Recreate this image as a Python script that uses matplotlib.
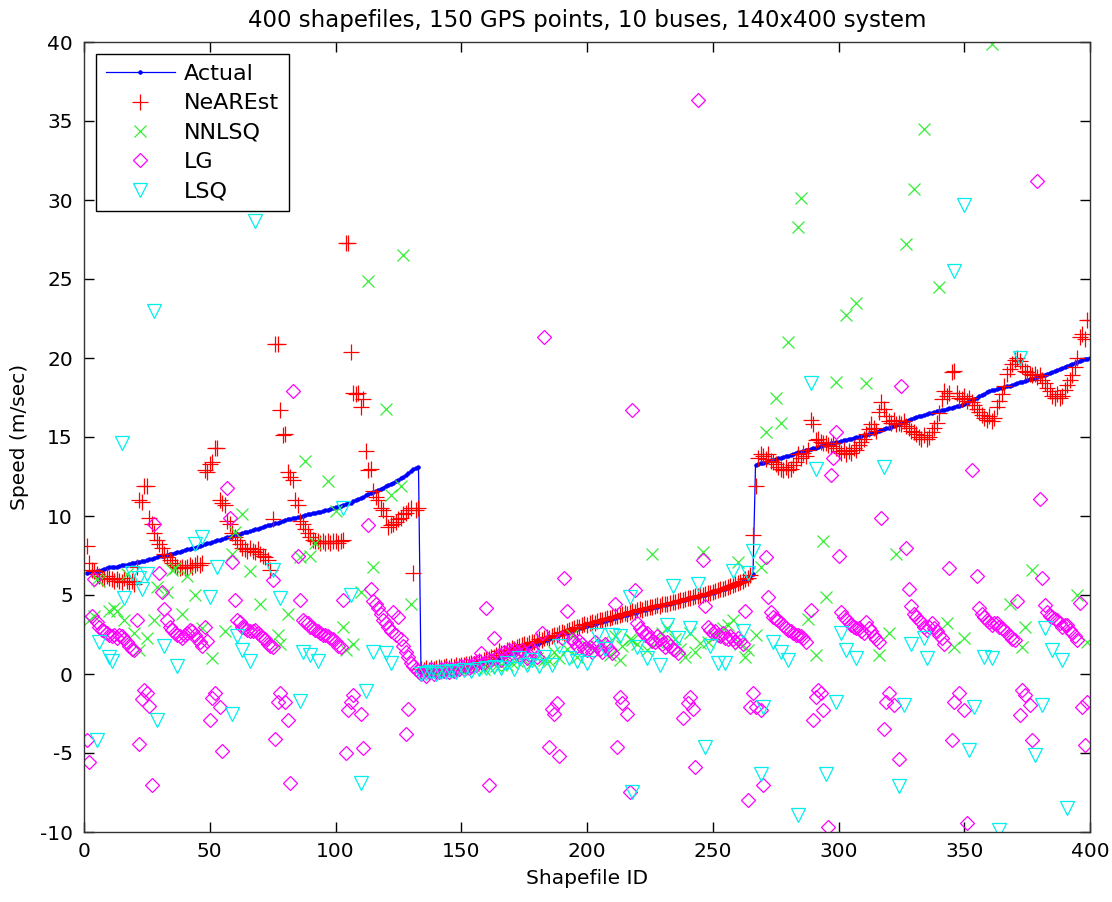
import numpy as np
import matplotlib
matplotlib.use("Agg")
import matplotlib.pyplot as plt

# ---------------------------------------------------------------- data
shapefile_id = np.arange(1, 401)

actual_speed = [
    # route 1 (ids 1-133)
    6.40, 6.43, 6.45, 6.46, 6.50, 6.55, 6.58, 6.62, 6.70, 6.75,
    6.76, 6.78, 6.80, 6.84, 6.88, 6.90, 6.93, 6.95, 7.00, 7.05,
    7.08, 7.10, 7.13, 7.16, 7.20, 7.25, 7.30, 7.34, 7.40, 7.45,
    7.48, 7.50, 7.55, 7.60, 7.62, 7.66, 7.70, 7.74, 7.80, 7.85,
    7.88, 7.92, 7.97, 8.00, 8.05, 8.10, 8.15, 8.20, 8.26, 8.30,
    8.35, 8.40, 8.45, 8.50, 8.55, 8.60, 8.66, 8.70, 8.76, 8.80,
    8.84, 8.88, 8.92, 8.96, 9.00, 9.05, 9.10, 9.15, 9.20, 9.25,
    9.30, 9.35, 9.40, 9.45, 9.50, 9.54, 9.58, 9.63, 9.70, 9.75,
    9.78, 9.80, 9.85, 9.88, 9.92, 9.96, 10.00, 10.05, 10.10, 10.15,
    10.18, 10.20, 10.25, 10.28, 10.30, 10.35, 10.40, 10.45, 10.50, 10.55,
    10.60, 10.65, 10.70, 10.75, 10.80, 10.85, 10.92, 11.00, 11.08, 11.15,
    11.22, 11.30, 11.38, 11.45, 11.52, 11.60, 11.66, 11.72, 11.80, 11.90,
    11.98, 12.05, 12.12, 12.20, 12.30, 12.40, 12.50, 12.60, 12.70, 12.85,
    12.95, 13.05, 13.10,
    # route 2 (ids 134-266)
    0.10, 0.12, 0.13, 0.15, 0.16, 0.18, 0.20, 0.21, 0.23, 0.25,
    0.27, 0.29, 0.31, 0.33, 0.35, 0.38, 0.40, 0.42, 0.45, 0.48,
    0.51, 0.54, 0.57, 0.60, 0.64, 0.68, 0.72, 0.77, 0.82, 0.88,
    0.94, 1.00, 1.06, 1.12, 1.18, 1.25, 1.32, 1.38, 1.44, 1.50,
    1.56, 1.62, 1.68, 1.74, 1.80, 1.86, 1.92, 1.98, 2.04, 2.10,
    2.16, 2.22, 2.28, 2.34, 2.40, 2.46, 2.52, 2.57, 2.62, 2.68,
    2.73, 2.78, 2.84, 2.89, 2.94, 2.99, 3.04, 3.09, 3.13, 3.18,
    3.22, 3.26, 3.31, 3.35, 3.40, 3.44, 3.49, 3.53, 3.58, 3.62,
    3.67, 3.71, 3.76, 3.80, 3.85, 3.89, 3.94, 3.98, 4.02, 4.06,
    4.10, 4.14, 4.18, 4.22, 4.26, 4.30, 4.34, 4.38, 4.42, 4.46,
    4.50, 4.54, 4.58, 4.62, 4.66, 4.70, 4.74, 4.78, 4.82, 4.86,
    4.90, 4.94, 4.98, 5.02, 5.06, 5.10, 5.15, 5.20, 5.25, 5.30,
    5.35, 5.40, 5.46, 5.52, 5.58, 5.64, 5.70, 5.78, 5.86, 5.94,
    6.05, 6.18, 6.30,
    # route 3 (ids 267-400)
    13.20, 13.28, 13.33, 13.38, 13.42, 13.47, 13.52, 13.56, 13.60, 13.64,
    13.68, 13.72, 13.77, 13.82, 13.87, 13.93, 14.00, 14.04, 14.08, 14.12,
    14.16, 14.20, 14.24, 14.28, 14.33, 14.38, 14.43, 14.48, 14.52, 14.56,
    14.60, 14.64, 14.67, 14.70, 14.74, 14.78, 14.82, 14.86, 14.90, 14.94,
    14.98, 15.02, 15.06, 15.10, 15.14, 15.18, 15.23, 15.28, 15.34, 15.40,
    15.45, 15.50, 15.55, 15.60, 15.66, 15.72, 15.78, 15.84, 15.90, 15.96,
    16.02, 16.08, 16.14, 16.20, 16.25, 16.30, 16.35, 16.40, 16.45, 16.50,
    16.54, 16.58, 16.62, 16.66, 16.70, 16.74, 16.78, 16.82, 16.86, 16.90,
    16.94, 16.98, 17.03, 17.10, 17.18, 17.26, 17.34, 17.42, 17.50, 17.58,
    17.66, 17.74, 17.82, 17.90, 17.96, 18.00, 18.04, 18.08, 18.12, 18.16,
    18.20, 18.25, 18.30, 18.35, 18.40, 18.45, 18.50, 18.55, 18.60, 18.65,
    18.70, 18.75, 18.80, 18.85, 18.90, 18.95, 19.00, 19.06, 19.12, 19.18,
    19.24, 19.30, 19.36, 19.42, 19.48, 19.55, 19.62, 19.70, 19.76, 19.82,
    19.87, 19.92, 19.96, 20.00,
]

nearest_speed = [
    # route 1
    8.1, 7.0, 6.6, 6.5, 6.3, 6.2, 6.1, 6.0, 6.2, 6.1,
    6.0, 5.9, 6.0, 5.9, 5.8, 6.1, 5.9, 5.8, 5.9, 5.7,
    6.8, 11.0, 10.9, 11.9, 11.9, 9.9, 9.5, 8.9, 8.5, 8.2,
    8.0, 7.6, 7.4, 7.2, 7.0, 6.9, 6.8, 6.7, 6.8, 6.7,
    6.8, 6.9, 6.8, 6.9, 7.0, 6.9, 7.0, 12.9, 12.8, 13.3,
    13.4, 14.3, 14.3, 11.0, 10.8, 10.7, 9.7, 9.5, 8.9, 8.7,
    8.5, 8.2, 8.0, 7.9, 7.8, 8.0, 7.8, 7.7, 7.9, 7.6,
    7.5, 7.4, 7.2, 6.6, 9.8, 20.9, 20.9, 16.7, 15.1, 15.2,
    12.8, 12.5, 12.3, 11.0, 10.7, 9.7, 9.5, 9.2, 8.9, 8.7,
    8.5, 8.4, 8.4, 8.3, 8.4, 8.3, 8.4, 8.3, 8.4, 8.4,
    8.3, 8.4, 8.5, 27.3, 27.3, 20.4, 17.8, 17.7, 17.8, 16.9,
    17.4, 14.1, 12.9, 13.0, 11.6, 11.2, 11.0, 10.5, 10.4, 10.0,
    9.3, 9.4, 9.5, 9.6, 9.8, 9.9, 10.1, 10.2, 10.4, 10.5,
    6.4, 10.4, 10.5,
    # route 2
    0.30, 0.25, 0.35, 0.28, 0.40, 0.32, 0.38, 0.45, 0.36, 0.42,
    0.48, 0.40, 0.52, 0.45, 0.55, 0.50, 0.60, 0.56, 0.65, 0.62,
    0.70, 0.66, 0.75, 0.80, 0.78, 0.88, 0.92, 0.95, 1.05, 1.10,
    1.20, 1.45, 1.35, 1.30, 1.55, 1.50, 1.62, 1.58, 1.70, 1.75,
    1.82, 1.90, 1.85, 1.98, 2.05, 2.00, 2.12, 2.20, 2.18, 2.28,
    2.35, 2.30, 2.42, 2.50, 2.45, 2.60, 2.66, 2.62, 2.75, 2.80,
    2.85, 2.92, 3.00, 2.96, 3.08, 3.15, 3.12, 3.22, 3.28, 3.25,
    3.35, 3.42, 3.40, 3.50, 3.55, 3.52, 3.62, 3.68, 3.66, 3.75,
    3.80, 3.85, 3.82, 3.92, 3.98, 3.95, 4.05, 4.10, 4.08, 4.15,
    4.20, 4.25, 4.22, 4.30, 4.36, 4.33, 4.40, 4.45, 4.42, 4.52,
    4.58, 4.55, 4.62, 4.70, 4.68, 4.75, 4.80, 4.78, 4.88, 4.92,
    4.95, 5.02, 5.00, 5.08, 5.12, 5.15, 5.22, 5.25, 5.30, 5.36,
    5.40, 5.45, 5.52, 5.58, 5.62, 5.70, 5.76, 5.84, 5.90, 6.00,
    6.10, 6.25, 8.80,
    # route 3
    11.9, 13.7, 13.9, 13.8, 13.6, 13.9, 13.5, 13.4, 13.3, 13.1,
    13.0, 12.9, 13.1, 12.9, 13.0, 13.2, 13.4, 13.9, 13.7, 14.0,
    13.8, 14.2, 16.1, 15.8, 14.8, 14.9, 14.7, 14.6, 14.6, 14.5,
    14.4, 14.6, 14.3, 14.1, 14.0, 14.2, 13.9, 14.1, 14.0, 14.3,
    14.2, 14.5, 14.7, 14.9, 15.2, 15.5, 15.8, 15.6, 15.4, 16.6,
    17.2, 16.8, 16.3, 16.0, 15.9, 16.1, 15.8, 15.9, 15.8, 16.0,
    15.7, 15.6, 15.4, 15.3, 15.2, 15.0, 14.9, 15.1, 14.9, 15.0,
    15.3, 15.6, 15.9, 16.5, 17.4, 17.9, 17.6, 17.8, 19.1, 19.2,
    17.8, 17.5, 17.4, 17.6, 17.3, 17.5, 17.2, 17.0, 16.8, 16.6,
    16.4, 16.2, 16.1, 16.3, 16.0, 16.2, 16.9, 17.3, 17.7, 18.2,
    19.0, 19.3, 19.6, 19.9, 20.0, 19.8, 19.5, 19.2, 19.1, 19.0,
    18.9, 19.0, 18.8, 18.9, 18.6, 18.4, 18.1, 17.9, 17.6, 17.5,
    17.7, 17.5, 17.6, 18.0, 18.3, 18.6, 18.9, 19.4, 20.0, 21.3,
    21.5, 21.2, 22.4, 22.4,
]

nnlsq_id = [
    2, 4, 5, 6, 10, 12, 13, 16, 17, 20, 22, 25, 28, 29, 33, 35, 36, 39,
    41, 44, 47, 51, 56, 59, 60, 63, 66, 70, 77, 78, 81, 86, 88, 90, 92,
    97, 100, 103, 104, 107, 110, 113, 115, 120, 122, 126, 127, 130,
    135, 137, 139, 141, 143, 145, 147, 150, 153, 156, 159, 161, 164,
    166, 168, 170, 172, 175, 178, 180, 183, 185, 187, 189, 192, 194,
    196, 200, 203, 206, 209, 211, 213, 214, 217, 218, 220, 224, 226,
    228, 230, 232, 235, 237, 239, 241, 243, 245, 246, 248, 251, 254,
    256, 258, 260, 261, 263, 264, 267, 269, 271, 275, 277, 280, 284,
    285, 288, 291, 294, 295, 299, 303, 307, 311, 316, 320, 323, 327,
    330, 334, 340, 343, 346, 350, 361, 368, 373, 374, 377, 395, 399,
]
nnlsq_speed = [
    3.4, 3.7, 6.0, 5.9, 4.0, 4.2, 4.0, 3.4, 6.3, 2.6, 1.5, 2.3, 3.4,
    5.5, 5.2, 6.6, 6.7, 3.8, 6.2, 5.0, 2.9, 1.0, 2.7, 7.6, 9.0, 10.1,
    6.5, 4.4, 2.5, 1.9, 3.8, 7.4, 13.5, 7.5, 8.3, 12.2, 10.3, 3.0, 1.5,
    1.9, 5.2, 24.9, 6.8, 16.8, 11.3, 11.9, 26.5, 4.4,
    0.05, 0.1, 0.15, 0.1, 0.2, 0.15, 0.25, 0.3, 0.35, 0.4, 0.3, 0.45,
    0.5, 0.6, 0.55, 0.7, 0.8, 0.9, 0.7, 1.0, 0.9, 0.8, 1.4, 1.0, 1.6,
    2.5, 1.1, 1.8, 1.5, 2.0, 1.2, 2.4, 0.9, 1.8, 2.2, 2.15, 1.9, 1.5,
    7.6, 2.0, 2.6, 2.9, 2.2, 1.6, 1.1, 2.6, 1.4, 1.95, 7.7, 2.0, 2.4,
    2.9, 3.1, 3.4, 7.1, 1.9, 1.1, 1.5, 2.5, 6.8, 15.3, 17.5, 15.9,
    21.0, 28.3, 30.1, 3.5, 1.2, 8.4, 4.9, 18.5, 22.7, 23.5, 18.4, 1.2,
    2.6, 7.6, 27.2, 30.7, 34.5, 24.5, 3.2, 1.7, 2.3, 39.9, 4.4, 1.7,
    3.0, 6.6, 5.0, 2.0,
]

lg_id = [
    1, 2, 4, 3, 5, 6, 7, 8, 9, 10, 11, 12, 13, 14, 15, 16, 17, 18, 19,
    20, 21, 23, 24, 25, 26, 22, 27, 28, 30, 31, 32, 33, 34, 35, 36, 37,
    38, 39, 40, 41, 42, 43, 44, 45, 46, 47, 48, 49, 50, 51, 52, 54, 55,
    57, 58, 59, 60, 61, 62, 63, 64, 65, 66, 67, 68, 69, 70, 71, 72, 73,
    74, 75, 75, 76, 77, 78, 80, 81, 82, 83, 85, 86, 87, 88, 89, 90, 91,
    92, 93, 94, 95, 96, 97, 98, 99, 100, 101, 102, 103, 104, 105, 106,
    107, 110, 111, 113, 114, 115, 116, 117, 118, 119, 120, 121, 122,
    123, 124, 125, 126, 127, 128, 129, 130, 131, 132, 133, 129, 128,
    134, 135, 136, 137, 138, 139, 140, 141, 142, 143, 144, 145, 146,
    147, 148, 149, 150, 151, 152, 153, 154, 155, 156, 157, 158, 159,
    160, 161, 162, 163, 164, 165, 166, 167, 168, 169, 170, 171, 172,
    173, 174, 175, 176, 177, 178, 179, 180,
    183, 182, 186, 187, 185, 189, 188, 191, 192, 190,
    194, 195, 196, 197, 198, 199, 200, 201, 202, 203, 204, 205, 206,
    207, 208, 209, 210,
    218, 219, 220, 221, 222, 223, 224, 225, 226, 227, 228, 229, 230,
    231, 232, 233, 234, 235, 236, 211, 213, 214, 216, 212, 217,
    244, 246, 247, 248, 249, 250, 251, 252, 253, 254, 255, 256, 257,
    258, 259, 260, 261, 262, 263, 241, 240, 242, 238, 243, 264, 265,
    266,
    267, 269, 270, 271, 272, 273, 274, 275, 276, 277, 278, 279, 280,
    281, 282, 283, 284, 285, 286, 287, 289, 290, 291, 292, 293, 294,
    296, 297, 298, 299, 300, 301, 302, 303, 304, 305, 306, 307, 308,
    309, 310, 311, 312, 313, 314, 315, 316, 317, 318, 319, 320, 322,
    324, 325, 327, 328, 329, 330, 331, 332, 333, 334, 335, 336, 337,
    338, 339, 340, 341, 342, 344, 346, 345, 348, 350, 351, 353, 355,
    356, 357, 358, 359, 360, 361, 362, 363, 364, 365, 366, 367, 368,
    369, 370, 371, 372, 373, 374, 376, 377, 379, 380, 381, 382, 383,
    384, 385, 386, 387, 388, 389, 390, 391, 392, 393, 394, 395, 396,
    397, 398, 399,
]
lg_speed = [
    -4.2, -5.6, 6.0, 3.7, 3.3, 3.0, 2.8, 2.7, 2.6, 2.5, 2.4, 2.5, 2.3,
    2.5, 2.4, 2.2, 2.0, 1.8, 1.6, 1.5, 3.4, -1.6, -1.0, -1.2, -2.0,
    -4.4, -7.0, 9.5, 6.4, 5.2, 4.1, 3.4, 3.0, 2.8, 2.6, 2.5, 2.4, 2.3,
    2.5, 2.6, 2.8, 2.7, 2.5, 2.2, 2.0, 1.8, 3.0, 2.1, -2.9, -1.5, -1.2,
    -2.1, -4.9, 11.8, 9.9, 7.1, 4.7, 3.4, 3.3, 3.0, 2.9, 2.8, 2.7, 2.7,
    2.8, 2.6, 2.5, 2.3, 2.2, 1.9, 1.8, 1.7, 5.95, -4.1, -1.75, -1.2,
    -1.75, -2.9, -6.9, 17.9, 7.5, 4.7, 3.4, 3.3, 3.2, 3.0, 2.9, 2.8,
    2.7, 2.6, 2.5, 2.5, 2.4, 2.3, 2.2, 2.0, 1.8, 1.7, 4.7, -5.0, -2.3,
    -1.75, -1.3, -2.5, -4.7, 9.4, 5.4, 4.6, 4.4, 4.2, 3.8, 3.4, 3.2,
    3.0, 2.7, 3.9, 2.5, 3.6, 2.2, 1.8, 1.4, 1.1, 0.7, 0.5, 0.3, 0.2,
    -2.2, -3.8,
    0.0, 0.2, -0.1, 0.1, 0.3, 0.0, 0.2, 0.1, 0.3, 0.2, 0.4, 0.1, 0.3,
    0.2, 0.4, 0.3, 0.5, 0.3, 0.6, 0.4, 0.5, 0.7, 0.6, 0.8, 1.3, 0.7,
    4.2, -7.0, 0.9, 2.25, 1.0, 1.2, 0.9, 1.4, 1.1, 1.5, 1.3, 1.6, 1.4,
    1.2, 1.5, 1.3, 1.0, 1.2, 1.6, 1.4, 1.1,
    21.3, 2.6, -2.2, -2.5, -4.6, -5.2, -1.85, 6.1, 4.0, 2.3,
    2.2, 2.0, 1.8, 2.1, 1.9, 1.6, 1.5, 1.7, 1.4, 2.0, 1.8, 1.6, 1.4,
    1.9, 1.7, 1.5, 1.3,
    16.7, 5.3, 3.2, 2.9, 2.7, 2.5, 2.6, 2.3, 2.1, 2.0, 2.4, 2.2, 1.9,
    1.7, 2.0, 1.8, 1.6, 1.5, 1.3, 4.4, -1.43, -1.85, -2.5, -4.6, -7.45,
    36.3, 7.2, 4.3, 3.0, 2.8, 2.6, 2.7, 2.5, 2.4, 2.6, 2.3, 2.2, 2.4,
    2.2, 2.0, 2.3, 2.1, 1.9, 4.0, -1.43, -1.85, -2.2, -2.8, -5.9,
    -7.97, -2.1, -1.2,
    -2.07, -2.3, -7.0, 7.4, 4.9, 3.9, 3.6, 3.5, 3.4, 3.2, 3.1, 2.9,
    2.8, 2.7, 2.6, 2.5, 2.5, 2.4, 2.3, 2.0, 4.05, -2.9, -1.45, -1.0,
    -1.2, -2.3, -9.7, 12.6, 13.7, 15.3, 7.5, 3.9, 3.6, 3.5, 3.3, 3.1,
    3.0, 2.9, 2.9, 2.7, 2.6, 3.3, 2.9, 2.7, 2.4, 2.2, 2.05, 9.85, -3.5,
    -1.75, -1.2, -1.96, -5.4, 18.2, 7.95, 5.4, 4.3, 3.8, 3.6, 3.4, 3.3,
    3.0, 2.8, 3.0, 3.2, 2.9, 2.7, 2.5, 2.3, 1.9, 6.7, -1.75, -4.2,
    -1.2, -2.3, -9.45, 12.9, 6.2, 4.15, 3.8, 3.6, 3.4, 3.3, 3.1, 3.2,
    3.2, 3.0, 2.9, 2.8, 2.6, 2.4, 2.2, 2.15, 4.6, -2.6, -1.0, -1.3,
    -1.96, -4.2, 31.2, 11.05, 6.1, 4.35, 3.9, 3.7, 3.6, 3.5, 3.4, 3.2,
    3.0, 3.1, 3.1, 2.8, 2.6, 2.4, 2.15, 4.5, -2.07, -4.5, -1.75,
]

lsq_id = [
    5, 6, 10, 11, 15, 16, 19, 22, 23, 25, 28, 29, 32, 37, 44, 47, 50,
    53, 59, 61, 63, 66, 68, 75, 78, 86, 87, 90, 93, 103, 106, 110, 112,
    115, 120, 122,
    134, 136, 138, 140, 142, 144, 146, 148, 151, 154, 157, 160, 163,
    166, 168, 171, 173, 176, 178, 181, 183, 186, 189, 193, 196, 200,
    204, 207, 210, 213, 217, 218, 220, 224, 229, 232, 234, 236, 241,
    244, 247, 249, 252, 255, 258, 262, 264, 266,
    269, 270, 274, 277, 280, 284, 289, 291, 295, 299, 301, 303, 307,
    318, 324, 326, 329, 334, 335, 346, 350, 352, 354, 358, 361, 364,
    372, 378, 381, 382, 385, 389, 391,
]
lsq_speed = [
    -4.2, 2.0, 1.1, 0.8, 14.6, 4.8, 6.4, 6.1, 5.4, 6.3, 23.0, -2.9, 1.8,
    0.5, 8.2, 8.7, 4.9, 6.8, -2.5, 2.4, 1.5, 0.8, 28.7, 6.6, 4.8, -1.7,
    1.4, 1.2, 0.8, 10.5, 5.0, -6.9, -1.1, 1.4, 1.3, 0.7,
    0.0, 0.05, 0.1, 0.0, 0.15, 0.1, 0.2, 0.15, 0.25, 0.2, 0.3, 0.35,
    0.45, 0.4, 0.7, 0.3, 1.0, 0.6, 0.9, 0.5, 1.1, 0.6, 1.8, 1.0, 0.8,
    0.7, 2.5, 1.6, 2.5, 2.4, 4.9, -7.45, 1.7, 1.0, 0.6, 3.1, 5.6, 2.3,
    2.9, 5.7, -4.6, 1.8, 0.7, 0.7, 6.5, 2.7, 6.4, 7.8,
    -6.3, -2.1, 2.0, 1.4, 0.9, -8.9, 18.4, 13.0, -6.3, -1.75, 2.6, 1.5,
    1.0, 13.1, -7.1, -1.95, 1.9, 2.3, 1.0, 25.5, 29.7, -4.8, -2.1, 1.1,
    1.0, -9.9, 20.0, -5.1, -1.95, 2.9, 1.5, 0.9, -8.5,
]

series_labels = ["Actual", "NeAREst", "NNLSQ", "LG", "LSQ"]
x_ticks = list(range(0, 401, 50))
y_ticks = list(range(-10, 41, 5))

# ---------------------------------------------------------------- figure
plt.rcParams["font.family"] = ["DejaVu Sans"]
plt.rcParams["font.size"] = 14.5
plt.rcParams["axes.unicode_minus"] = False

W, H = 1112, 902
fig = plt.figure(figsize=(W / 100, H / 100), dpi=100)
ax = fig.add_axes([84 / W, 70 / H, 1006 / W, 790 / H])

ax.plot(shapefile_id, actual_speed, color="#0000ff", lw=0.9, marker=".",
        ms=4.5, label=series_labels[0])
ax.plot(shapefile_id, nearest_speed, ls="none", marker="+", color="#ff0000",
        ms=11, mew=0.9, label=series_labels[1])
ax.plot(nnlsq_id, nnlsq_speed, ls="none", marker="x", color="#33ee33",
        ms=8, mew=0.9, label=series_labels[2])
ax.plot(lg_id, lg_speed, ls="none", marker="D", mfc="none", mec="#ff00ff",
        ms=7, mew=0.9, label=series_labels[3])
ax.plot(lsq_id, lsq_speed, ls="none", marker="v", mfc="none", mec="#00eeee",
        ms=10, mew=0.9, label=series_labels[4])

ax.set_xlim(0, 400)
ax.set_ylim(-10, 40)
ax.set_xticks(x_ticks)
ax.set_yticks(y_ticks)
ax.tick_params(direction="in", length=7, width=1, top=True, right=True,
               colors="black", labelsize=14.5)
ax.tick_params(axis="x", pad=7)
ax.tick_params(axis="y", pad=8)
for sp in ax.spines.values():
    sp.set_color("#333333")
    sp.set_linewidth(1.0)

ax.set_title("400 shapefiles, 150 GPS points, 10 buses, 140x400 system",
             fontsize=16.5, pad=11)
ax.set_xlabel("Shapefile ID", fontsize=14.5, labelpad=6)
ax.set_ylabel("Speed (m/sec)", fontsize=14.5, labelpad=8)

leg = ax.legend(loc="upper left", bbox_to_anchor=(12 / 1006, (832 - 54) / 790),
                borderaxespad=0, numpoints=1, frameon=True, fancybox=False,
                framealpha=1, edgecolor="black", fontsize=16,
                handlelength=3.1, handletextpad=0.4, labelspacing=0.42,
                borderpad=0.45)
leg.get_frame().set_linewidth(1.0)

fig.savefig("out.png", dpi=100, facecolor="white")
